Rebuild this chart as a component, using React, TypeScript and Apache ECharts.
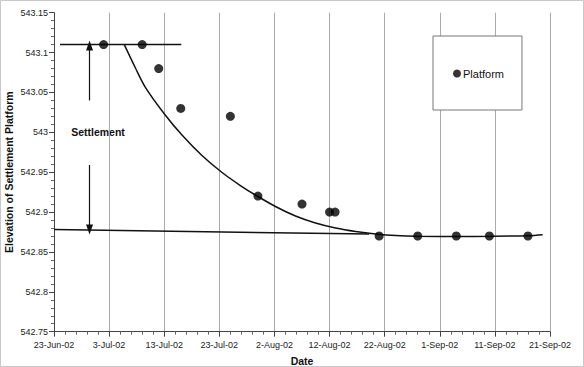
import React, { useEffect, useRef } from "react";
import * as echarts from "echarts";

const startDate = "2002-06-23";
const xTickLabels = ["23-Jun-02", "3-Jul-02", "13-Jul-02", "23-Jul-02", "2-Aug-02", "12-Aug-02", "22-Aug-02", "1-Sep-02", "11-Sep-02", "21-Sep-02"];

const platformDates = ["2002-07-02", "2002-07-09", "2002-07-12", "2002-07-16", "2002-07-25", "2002-07-30", "2002-08-07", "2002-08-12", "2002-08-13", "2002-08-21", "2002-08-28", "2002-09-04", "2002-09-10", "2002-09-17"];
const platformElev = [543.11, 543.11, 543.08, 543.03, 543.02, 542.92, 542.91, 542.9, 542.9, 542.87, 542.87, 542.87, 542.87, 542.87];

// fitted settlement curve (days since 23-Jun-02)
const curveDays = [12.73, 14.73, 16.55, 20.18, 23.22, 26.85, 30.49, 33.82, 36.55, 40.18, 43.82, 47.45, 51.09, 54.73, 58.36, 62.0, 66.0, 73.27, 79.27, 86.18, 88.67];
const curveElev = [543.1102, 543.0813, 543.0568, 543.0217, 542.9966, 542.9709, 542.9496, 542.9333, 542.9214, 542.907, 542.8951, 542.8863, 542.88, 542.8756, 542.8725, 542.8705, 542.8696, 542.8694, 542.8696, 542.8704, 542.8716];

const initialLineDays = [1.1, 23.1];
const initialLineElev = [543.11, 543.11];
const finalLineDays = [0, 57.2];
const finalLineElev = [542.878, 542.8725];

const arrowDay = 6.45;
const upperArrowElev = [543.04, 543.109];
const lowerArrowElev = [542.959, 542.878];

const FONT = "Liberation Sans, Arial, sans-serif";

function dayOf(s: string): number {
  const [y, m, d] = s.split("-").map(Number);
  const [y0, m0, d0] = startDate.split("-").map(Number);
  return (Date.UTC(y, m - 1, d) - Date.UTC(y0, m0 - 1, d0)) / 86400000;
}

export default function App() {
  const ref = useRef<HTMLDivElement>(null);
  useEffect(() => {
    document.body.style.margin = "0";
    const chart = echarts.init(ref.current!, null, { renderer: "svg" });
    const lineStyle = { color: "#111", width: 1.5 };
    chart.setOption({
      animation: false,
      backgroundColor: "#fff",
      textStyle: { fontFamily: FONT },
      grid: { left: 54, right: 34, top: 12.7, bottom: 35.3, outerBoundsMode: "none", containLabel: false },
      legend: {
        data: [{ name: "Platform", icon: "circle" }],
        left: 433,
        top: 36,
        orient: "vertical",
        itemWidth: 8,
        itemHeight: 8,
        padding: [32, 18, 31, 20],
        borderColor: "#777",
        borderWidth: 1,
        backgroundColor: "#fff",
        textStyle: { fontFamily: FONT, fontSize: 11, color: "#111", padding: [0, 0, 0, -3] },
      },
      xAxis: {
        type: "value",
        min: 0,
        max: 90,
        interval: 10,
        name: "Date",
        nameLocation: "middle",
        nameGap: 24,
        nameMoveOverlap: false,
        nameTextStyle: { fontFamily: FONT, fontWeight: "bold", fontSize: 10.5, color: "#111" },
        axisLine: { lineStyle: { color: "#444", width: 1 } },
        axisTick: { show: true, length: 5, lineStyle: { color: "#444" } },
        minorTick: { show: true, splitNumber: 5, length: 3, lineStyle: { color: "#666" } },
        axisLabel: {
          margin: 9,
          fontSize: 9,
          color: "#222",
          fontFamily: FONT,
          formatter: (v: number) => xTickLabels[Math.round(v / 10)] ?? "",
        },
        splitLine: { show: true, lineStyle: { color: "#aaa", width: 1 } },
      },
      yAxis: {
        type: "value",
        min: 542.75,
        max: 543.15,
        interval: 0.05,
        name: "Elevation of Settlement Platform",
        nameLocation: "middle",
        nameGap: 40,
        nameMoveOverlap: false,
        nameTextStyle: { fontFamily: FONT, fontWeight: "bold", fontSize: 10.5, color: "#111" },
        axisLine: { show: true, lineStyle: { color: "#444", width: 1 } },
        axisTick: { show: true, length: 5, lineStyle: { color: "#444" } },
        minorTick: { show: true, splitNumber: 5, length: 3, lineStyle: { color: "#666" } },
        axisLabel: {
          margin: 6,
          fontSize: 9,
          color: "#222",
          fontFamily: FONT,
          formatter: (v: number) => String(parseFloat(v.toFixed(2))),
        },
        splitLine: { show: false },
      },
      series: [
        {
          name: "Initial",
          type: "line",
          data: initialLineDays.map((d, i) => [d, initialLineElev[i]]),
          showSymbol: false,
          lineStyle,
          silent: true,
          z: 3,
        },
        {
          name: "Final",
          type: "line",
          data: finalLineDays.map((d, i) => [d, finalLineElev[i]]),
          showSymbol: false,
          lineStyle,
          silent: true,
          z: 3,
          markLine: {
            silent: true,
            symbol: ["none", "triangle"],
            symbolSize: [7, 10],
            label: { show: false },
            lineStyle: { color: "#111", width: 1.2, type: "solid" },
            data: [
              [{ coord: [arrowDay, upperArrowElev[0]] }, { coord: [arrowDay, upperArrowElev[1]] }],
              [{ coord: [arrowDay, lowerArrowElev[0]] }, { coord: [arrowDay, lowerArrowElev[1]] }],
            ],
          },
        },
        {
          name: "Fit",
          type: "line",
          data: curveDays.map((d, i) => [d, curveElev[i]]),
          showSymbol: false,
          smooth: 0.3,
          lineStyle,
          silent: true,
          z: 3,
        },
        {
          name: "Platform",
          type: "scatter",
          data: platformDates.map((d, i) => [dayOf(d), platformElev[i]]),
          symbol: "circle",
          symbolSize: 9,
          itemStyle: { color: "#000" },
          z: 4,
        },
      ],
      graphic: [
        {
          type: "rect",
          shape: { x: 0.5, y: 0.5, width: 583, height: 366 },
          style: { fill: "none", stroke: "#c8c8c8", lineWidth: 1 },
          silent: true,
        },
        {
          type: "text",
          x: 98,
          y: 132,
          style: {
            text: "Settlement",
            fontFamily: FONT,
            fontWeight: "bold",
            fontSize: 10.5,
            fill: "#111",
            align: "center",
            verticalAlign: "middle",
          },
        },
      ],
    });
    return () => chart.dispose();
  }, []);
  return <div ref={ref} style={{ width: 584, height: 367 }} />;
}
